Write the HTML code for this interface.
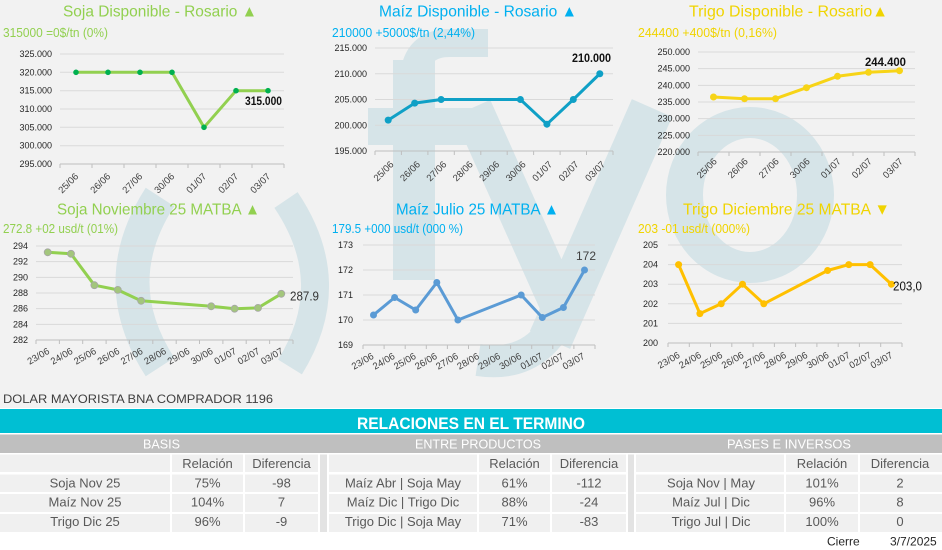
<!DOCTYPE html>
<html><head><meta charset="utf-8"><style>
html,body{margin:0;padding:0;background:#f2f2f2;}
svg{display:block;font-family:"Liberation Sans",sans-serif;}
</style></head><body>
<svg width="942" height="550" viewBox="0 0 942 550" xmlns="http://www.w3.org/2000/svg">
<rect width="942" height="550" fill="#f2f2f2"/>
<!-- watermark -->
<g fill="none" stroke="#d6e4e8">
<path d="M160 197 Q105 282 160 367" stroke-width="34"/>
<path d="M286 200 Q342 283 290 367" stroke-width="28"/>
<path d="M414 78 Q416 43 450 43 L488 43" stroke-width="28"/>
<path d="M472 108 L560 305" stroke-width="40"/>
<path d="M652 108 L550 340" stroke-width="44"/>
<path d="M556 325 Q530 368 478 360" stroke-width="32"/>
</g>
<g fill="#d6e4e8">
<rect x="393" y="60" width="42" height="220"/>
<rect x="368" y="108" width="124" height="37"/>
<path fill-rule="evenodd" d="M666 195 A84 88 0 1 0 834 195 A84 88 0 1 0 666 195 Z M703 195 A47 57 0 1 0 797 195 A47 57 0 1 0 703 195 Z"/>
</g>

<!-- titles -->
<g font-size="16">
<text x="63" y="16.5" fill="#92d050" textLength="194" lengthAdjust="spacingAndGlyphs">Soja Disponible - Rosario ▲</text>
<text x="379" y="16.5" fill="#00b0f0" textLength="198" lengthAdjust="spacingAndGlyphs">Maíz Disponible - Rosario ▲</text>
<text x="689" y="16.5" fill="#f0d400" textLength="199" lengthAdjust="spacingAndGlyphs">Trigo Disponible - Rosario▲</text>
<text x="57" y="214.5" fill="#92d050" textLength="203" lengthAdjust="spacingAndGlyphs">Soja Noviembre 25 MATBA ▲</text>
<text x="396" y="214.5" fill="#00b0f0" textLength="163" lengthAdjust="spacingAndGlyphs">Maíz Julio 25 MATBA ▲</text>
<text x="683" y="214.5" fill="#f0d400" textLength="207" lengthAdjust="spacingAndGlyphs">Trigo Diciembre 25 MATBA ▼</text>
</g>
<g font-size="12.5">
<text x="3" y="37" fill="#92d050" textLength="105" lengthAdjust="spacingAndGlyphs">315000 =0$/tn (0%)</text>
<text x="332" y="37" fill="#00b0f0" textLength="143" lengthAdjust="spacingAndGlyphs">210000 +5000$/tn (2,44%)</text>
<text x="638" y="37" fill="#f0d400" textLength="139" lengthAdjust="spacingAndGlyphs">244400 +400$/tn (0,16%)</text>
<text x="3" y="233" fill="#92d050" textLength="115" lengthAdjust="spacingAndGlyphs">272.8 +02 usd/t (01%)</text>
<text x="332" y="233" fill="#00b0f0" textLength="131" lengthAdjust="spacingAndGlyphs">179.5 +000 usd/t (000 %)</text>
<text x="638" y="233" fill="#f0d400" textLength="112" lengthAdjust="spacingAndGlyphs">203 -01 usd/t (000%)</text>
</g>

<!-- gridlines -->
<g stroke="#d9d9d9" stroke-width="1">
<path d="M60 54H284M60 72.3H284M60 90.7H284M60 109H284M60 127.3H284M60 145.7H284"/>
<path d="M375 48H613M375 73.75H613M375 99.5H613M375 125.25H613"/>
<path d="M698 52H915M698 68.67H915M698 85.33H915M698 102H915M698 118.67H915M698 135.33H915"/>
<path d="M36 246H293M36 261.67H293M36 277.33H293M36 293H293M36 308.67H293M36 324.33H293"/>
<path d="M363 245H595M363 270H595M363 295H595M363 320H595"/>
<path d="M668 245H902M668 264.6H902M668 284.2H902M668 303.8H902M668 323.4H902"/>
</g>
<!-- axes & ticks -->
<g stroke="#bfbfbf" stroke-width="1" fill="none">
<path d="M60 164H284M60 164v4M92 164v4M124 164v4M156 164v4M188 164v4M220 164v4M252 164v4M284 164v4"/>
<path d="M375 151H613M375 151v4M401.4 151v4M427.9 151v4M454.3 151v4M480.8 151v4M507.2 151v4M533.6 151v4M560.1 151v4M586.5 151v4M613 151v4"/>
<path d="M698 152H915M698 152v4M729 152v4M760 152v4M791 152v4M822 152v4M853 152v4M884 152v4M915 152v4"/>
<path d="M36 340H293M36 340v4M59.4 340v4M82.7 340v4M106.1 340v4M129.4 340v4M152.8 340v4M176.2 340v4M199.5 340v4M222.9 340v4M246.2 340v4M269.6 340v4M293 340v4"/>
<path d="M363 345H595M363 345v4M384.1 345v4M405.2 345v4M426.3 345v4M447.4 345v4M468.5 345v4M489.5 345v4M510.6 345v4M531.7 345v4M552.8 345v4M573.9 345v4M595 345v4"/>
<path d="M668 343H902M668 343v4M689.3 343v4M710.5 343v4M731.8 343v4M753.1 343v4M774.4 343v4M795.6 343v4M816.9 343v4M838.2 343v4M859.4 343v4M880.7 343v4M902 343v4"/>
</g>

<!-- y labels -->
<g font-size="9" fill="#262626" text-anchor="end">
<text x="52" y="57">325.000</text><text x="52" y="75.3">320.000</text><text x="52" y="93.7">315.000</text><text x="52" y="112">310.000</text><text x="52" y="130.3">305.000</text><text x="52" y="148.7">300.000</text><text x="52" y="167">295.000</text>
<text x="367" y="51">215.000</text><text x="367" y="76.75">210.000</text><text x="367" y="102.5">205.000</text><text x="367" y="128.25">200.000</text><text x="367" y="154">195.000</text>
<text x="690" y="55">250.000</text><text x="690" y="71.67">245.000</text><text x="690" y="88.33">240.000</text><text x="690" y="105">235.000</text><text x="690" y="121.67">230.000</text><text x="690" y="138.33">225.000</text><text x="690" y="155">220.000</text>
<text x="28" y="249">294</text><text x="28" y="264.67">292</text><text x="28" y="280.33">290</text><text x="28" y="296">288</text><text x="28" y="311.67">286</text><text x="28" y="327.33">284</text><text x="28" y="343">282</text>
<text x="353" y="248">173</text><text x="353" y="273">172</text><text x="353" y="298">171</text><text x="353" y="323">170</text><text x="353" y="348">169</text>
<text x="658" y="248">205</text><text x="658" y="267.6">204</text><text x="658" y="287.2">203</text><text x="658" y="306.8">202</text><text x="658" y="326.4">201</text><text x="658" y="346">200</text>
</g>

<!-- x labels -->
<g font-size="9.5" fill="#404040" text-anchor="end">
<text transform="translate(79,177) rotate(-45)">25/06</text>
<text transform="translate(111,177) rotate(-45)">26/06</text>
<text transform="translate(143,177) rotate(-45)">27/06</text>
<text transform="translate(175,177) rotate(-45)">30/06</text>
<text transform="translate(207,177) rotate(-45)">01/07</text>
<text transform="translate(239,177) rotate(-45)">02/07</text>
<text transform="translate(271,177) rotate(-45)">03/07</text>

<text transform="translate(394.2,165) rotate(-45)">25/06</text>
<text transform="translate(420.7,165) rotate(-45)">26/06</text>
<text transform="translate(447.1,165) rotate(-45)">27/06</text>
<text transform="translate(473.5,165) rotate(-45)">28/06</text>
<text transform="translate(500,165) rotate(-45)">29/06</text>
<text transform="translate(526.4,165) rotate(-45)">30/06</text>
<text transform="translate(552.9,165) rotate(-45)">01/07</text>
<text transform="translate(579.3,165) rotate(-45)">02/07</text>
<text transform="translate(605.8,165) rotate(-45)">03/07</text>

<text transform="translate(717.5,162) rotate(-45)">25/06</text>
<text transform="translate(748.5,162) rotate(-45)">26/06</text>
<text transform="translate(779.5,162) rotate(-45)">27/06</text>
<text transform="translate(810.5,162) rotate(-45)">30/06</text>
<text transform="translate(841.5,162) rotate(-45)">01/07</text>
<text transform="translate(872.5,162) rotate(-45)">02/07</text>
<text transform="translate(903.5,162) rotate(-45)">03/07</text>

<text transform="translate(50.2,353) rotate(-30)">23/06</text>
<text transform="translate(73.5,353) rotate(-30)">24/06</text>
<text transform="translate(96.9,353) rotate(-30)">25/06</text>
<text transform="translate(120.3,353) rotate(-30)">26/06</text>
<text transform="translate(143.6,353) rotate(-30)">27/06</text>
<text transform="translate(167,353) rotate(-30)">28/06</text>
<text transform="translate(190.4,353) rotate(-30)">29/06</text>
<text transform="translate(213.7,353) rotate(-30)">30/06</text>
<text transform="translate(237.1,353) rotate(-30)">01/07</text>
<text transform="translate(260.5,353) rotate(-30)">02/07</text>
<text transform="translate(283.8,353) rotate(-30)">03/07</text>

<text transform="translate(374.5,358) rotate(-30)">23/06</text>
<text transform="translate(395.6,358) rotate(-30)">24/06</text>
<text transform="translate(416.7,358) rotate(-30)">25/06</text>
<text transform="translate(437.8,358) rotate(-30)">26/06</text>
<text transform="translate(458.9,358) rotate(-30)">27/06</text>
<text transform="translate(480,358) rotate(-30)">28/06</text>
<text transform="translate(501.1,358) rotate(-30)">29/06</text>
<text transform="translate(522.2,358) rotate(-30)">30/06</text>
<text transform="translate(543.3,358) rotate(-30)">01/07</text>
<text transform="translate(564.4,358) rotate(-30)">02/07</text>
<text transform="translate(585.5,358) rotate(-30)">03/07</text>

<text transform="translate(680.6,357) rotate(-30)">23/06</text>
<text transform="translate(701.9,357) rotate(-30)">24/06</text>
<text transform="translate(723.2,357) rotate(-30)">25/06</text>
<text transform="translate(744.5,357) rotate(-30)">26/06</text>
<text transform="translate(765.8,357) rotate(-30)">27/06</text>
<text transform="translate(787,357) rotate(-30)">28/06</text>
<text transform="translate(808.3,357) rotate(-30)">29/06</text>
<text transform="translate(829.6,357) rotate(-30)">30/06</text>
<text transform="translate(850.8,357) rotate(-30)">01/07</text>
<text transform="translate(872.1,357) rotate(-30)">02/07</text>
<text transform="translate(893.4,357) rotate(-30)">03/07</text>
</g>

<!-- series -->
<g fill="none" stroke-width="3" stroke-linejoin="round">
<polyline stroke="#92d050" points="76,72.3 108,72.3 140,72.3 172,72.3 204,127.3 236,90.7 268,90.7"/>
<polyline stroke="#0fa0c6" points="388.2,120.1 414.7,103.1 441.1,99.5 520.4,99.5 546.9,124.2 573.3,99.5 599.8,73.75"/>
<polyline stroke="#f7d417" points="713.5,97 744.5,98.7 775.5,98.7 806.5,87.7 837.5,76.3 868.5,72.3 899.5,70.7"/>
<polyline stroke="#92d050" points="47.7,252.3 71,253.8 94.4,285.2 117.8,289.9 141.1,300.8 211.2,306.3 234.6,308.7 258,307.9 281.3,293.8"/>
<polyline stroke="#5b9bd5" points="373.5,315 394.6,297.5 415.7,310 436.8,282.5 457.9,320 521.2,295 542.3,317.5 563.4,307.5 584.5,270"/>
<polyline stroke="#ffc000" points="678.6,264.6 699.9,313.6 721.2,303.8 742.5,284.2 763.8,303.8 827.6,270.5 848.8,264.6 870.1,264.6 891.4,284.2"/>
</g>
<g fill="#00b050">
<circle cx="76" cy="72.3" r="2.8"/><circle cx="108" cy="72.3" r="2.8"/><circle cx="140" cy="72.3" r="2.8"/><circle cx="172" cy="72.3" r="2.8"/><circle cx="204" cy="127.3" r="2.8"/><circle cx="236" cy="90.7" r="2.8"/><circle cx="268" cy="90.7" r="2.8"/>
</g>
<g fill="#0fa0c6">
<circle cx="388.2" cy="120.1" r="3.5"/><circle cx="414.7" cy="103.1" r="3.5"/><circle cx="441.1" cy="99.5" r="3.5"/><circle cx="520.4" cy="99.5" r="3.5"/><circle cx="546.9" cy="124.2" r="3.5"/><circle cx="573.3" cy="99.5" r="3.5"/><circle cx="599.8" cy="73.75" r="3.5"/>
</g>
<g fill="#f7d417">
<circle cx="713.5" cy="97" r="3.5"/><circle cx="744.5" cy="98.7" r="3.5"/><circle cx="775.5" cy="98.7" r="3.5"/><circle cx="806.5" cy="87.7" r="3.5"/><circle cx="837.5" cy="76.3" r="3.5"/><circle cx="868.5" cy="72.3" r="3.5"/><circle cx="899.5" cy="70.7" r="3.5"/>
</g>
<g fill="#a3c67c" stroke="#a6a6a6" stroke-width="0.8">
<circle cx="47.7" cy="252.3" r="3.5"/><circle cx="71" cy="253.8" r="3.5"/><circle cx="94.4" cy="285.2" r="3.5"/><circle cx="117.8" cy="289.9" r="3.5"/><circle cx="141.1" cy="300.8" r="3.5"/><circle cx="211.2" cy="306.3" r="3.5"/><circle cx="234.6" cy="308.7" r="3.5"/><circle cx="258" cy="307.9" r="3.5"/><circle cx="281.3" cy="293.8" r="3.5"/>
</g>
<g fill="#5b9bd5">
<circle cx="373.5" cy="315" r="3.5"/><circle cx="394.6" cy="297.5" r="3.5"/><circle cx="415.7" cy="310" r="3.5"/><circle cx="436.8" cy="282.5" r="3.5"/><circle cx="457.9" cy="320" r="3.5"/><circle cx="521.2" cy="295" r="3.5"/><circle cx="542.3" cy="317.5" r="3.5"/><circle cx="563.4" cy="307.5" r="3.5"/><circle cx="584.5" cy="270" r="3.5"/>
</g>
<g fill="#ffc000">
<circle cx="678.6" cy="264.6" r="3.5"/><circle cx="699.9" cy="313.6" r="3.5"/><circle cx="721.2" cy="303.8" r="3.5"/><circle cx="742.5" cy="284.2" r="3.5"/><circle cx="763.8" cy="303.8" r="3.5"/><circle cx="827.6" cy="270.5" r="3.5"/><circle cx="848.8" cy="264.6" r="3.5"/><circle cx="870.1" cy="264.6" r="3.5"/><circle cx="891.4" cy="284.2" r="3.5"/>
</g>

<!-- data labels -->
<g font-weight="bold" font-size="12" fill="#111">
<text x="245" y="105" textLength="37" lengthAdjust="spacingAndGlyphs">315.000</text>
<text x="572" y="62" textLength="39" lengthAdjust="spacingAndGlyphs">210.000</text>
<text x="865" y="66" textLength="41" lengthAdjust="spacingAndGlyphs">244.400</text>
</g>
<text x="290" y="300.5" font-size="13" fill="#333" textLength="29" lengthAdjust="spacingAndGlyphs">287.9</text>
<text x="576" y="260" font-size="12" fill="#404040" textLength="20" lengthAdjust="spacingAndGlyphs">172</text>
<text x="893" y="290.5" font-size="13" fill="#111" textLength="29" lengthAdjust="spacingAndGlyphs">203,0</text>

<!-- bottom -->
<text x="3" y="403" font-size="12" fill="#404040" textLength="270" lengthAdjust="spacingAndGlyphs">DOLAR MAYORISTA BNA COMPRADOR 1196</text>
<rect x="0" y="408" width="942" height="142" fill="#ffffff"/>
<rect x="0" y="409" width="942" height="24" fill="#00bfd3"/>
<text x="357" y="429" font-size="16.5" font-weight="bold" fill="#ffffff" textLength="228" lengthAdjust="spacingAndGlyphs">RELACIONES EN EL TERMINO</text>
<rect x="0" y="434.5" width="942" height="18.5" fill="#bfbfbf"/>
<g font-size="12.5" fill="#ffffff">
<text x="143" y="448.5" textLength="37" lengthAdjust="spacingAndGlyphs">BASIS</text>
<text x="415" y="448.5" textLength="126" lengthAdjust="spacingAndGlyphs">ENTRE PRODUCTOS</text>
<text x="727" y="448.5" textLength="124" lengthAdjust="spacingAndGlyphs">PASES E INVERSOS</text>
</g>
<g fill="#f0f0f0">
<!-- table 1 -->
<rect x="0" y="454.5" width="170" height="17.5"/><rect x="172" y="454.5" width="71" height="17.5"/><rect x="245" y="454.5" width="73" height="17.5"/>
<rect x="0" y="474.5" width="170" height="17.5"/><rect x="172" y="474.5" width="71" height="17.5"/><rect x="245" y="474.5" width="73" height="17.5"/>
<rect x="0" y="494" width="170" height="18"/><rect x="172" y="494" width="71" height="18"/><rect x="245" y="494" width="73" height="18"/>
<rect x="0" y="514" width="170" height="18"/><rect x="172" y="514" width="71" height="18"/><rect x="245" y="514" width="73" height="18"/>
<!-- table 2 -->
<rect x="329" y="454.5" width="148" height="17.5"/><rect x="479" y="454.5" width="71" height="17.5"/><rect x="552" y="454.5" width="74" height="17.5"/>
<rect x="329" y="474.5" width="148" height="17.5"/><rect x="479" y="474.5" width="71" height="17.5"/><rect x="552" y="474.5" width="74" height="17.5"/>
<rect x="329" y="494" width="148" height="18"/><rect x="479" y="494" width="71" height="18"/><rect x="552" y="494" width="74" height="18"/>
<rect x="329" y="514" width="148" height="18"/><rect x="479" y="514" width="71" height="18"/><rect x="552" y="514" width="74" height="18"/>
<!-- table 3 -->
<rect x="636" y="454.5" width="148" height="17.5"/><rect x="786" y="454.5" width="72" height="17.5"/><rect x="860" y="454.5" width="82" height="17.5"/>
<rect x="636" y="474.5" width="148" height="17.5"/><rect x="786" y="474.5" width="72" height="17.5"/><rect x="860" y="474.5" width="82" height="17.5"/>
<rect x="636" y="494" width="148" height="18"/><rect x="786" y="494" width="72" height="18"/><rect x="860" y="494" width="82" height="18"/>
<rect x="636" y="514" width="148" height="18"/><rect x="786" y="514" width="72" height="18"/><rect x="860" y="514" width="82" height="18"/>
</g>
<g fill="#e3e3e3">
<rect x="320" y="454.5" width="7" height="77.5"/>
<rect x="628" y="454.5" width="6" height="77.5"/>
</g>
<g font-size="13" fill="#595959" text-anchor="middle">
<text x="207.5" y="468">Relación</text><text x="281.5" y="468">Diferencia</text>
<text x="85" y="487.5">Soja Nov 25</text><text x="207.5" y="487.5">75%</text><text x="281.5" y="487.5">-98</text>
<text x="85" y="506.5">Maíz Nov 25</text><text x="207.5" y="506.5">104%</text><text x="281.5" y="506.5">7</text>
<text x="85" y="526">Trigo Dic 25</text><text x="207.5" y="526">96%</text><text x="281.5" y="526">-9</text>

<text x="514.5" y="468">Relación</text><text x="589" y="468">Diferencia</text>
<text x="403" y="487.5">Maíz Abr | Soja May</text><text x="514.5" y="487.5">61%</text><text x="589" y="487.5">-112</text>
<text x="403" y="506.5">Maíz Dic | Trigo Dic</text><text x="514.5" y="506.5">88%</text><text x="589" y="506.5">-24</text>
<text x="403" y="526">Trigo Dic | Soja May</text><text x="514.5" y="526">71%</text><text x="589" y="526">-83</text>

<text x="822" y="468">Relación</text><text x="900" y="468">Diferencia</text>
<text x="711" y="487.5">Soja Nov | May</text><text x="822" y="487.5">101%</text><text x="900" y="487.5">2</text>
<text x="711" y="506.5">Maíz Jul | Dic</text><text x="822" y="506.5">96%</text><text x="900" y="506.5">8</text>
<text x="711" y="526">Trigo Jul | Dic</text><text x="822" y="526">100%</text><text x="900" y="526">0</text>
</g>
<text x="827" y="545.5" font-size="12" fill="#262626">Cierre</text>
<text x="890" y="545.5" font-size="12" fill="#262626">3/7/2025</text>
</svg>
</body></html>
